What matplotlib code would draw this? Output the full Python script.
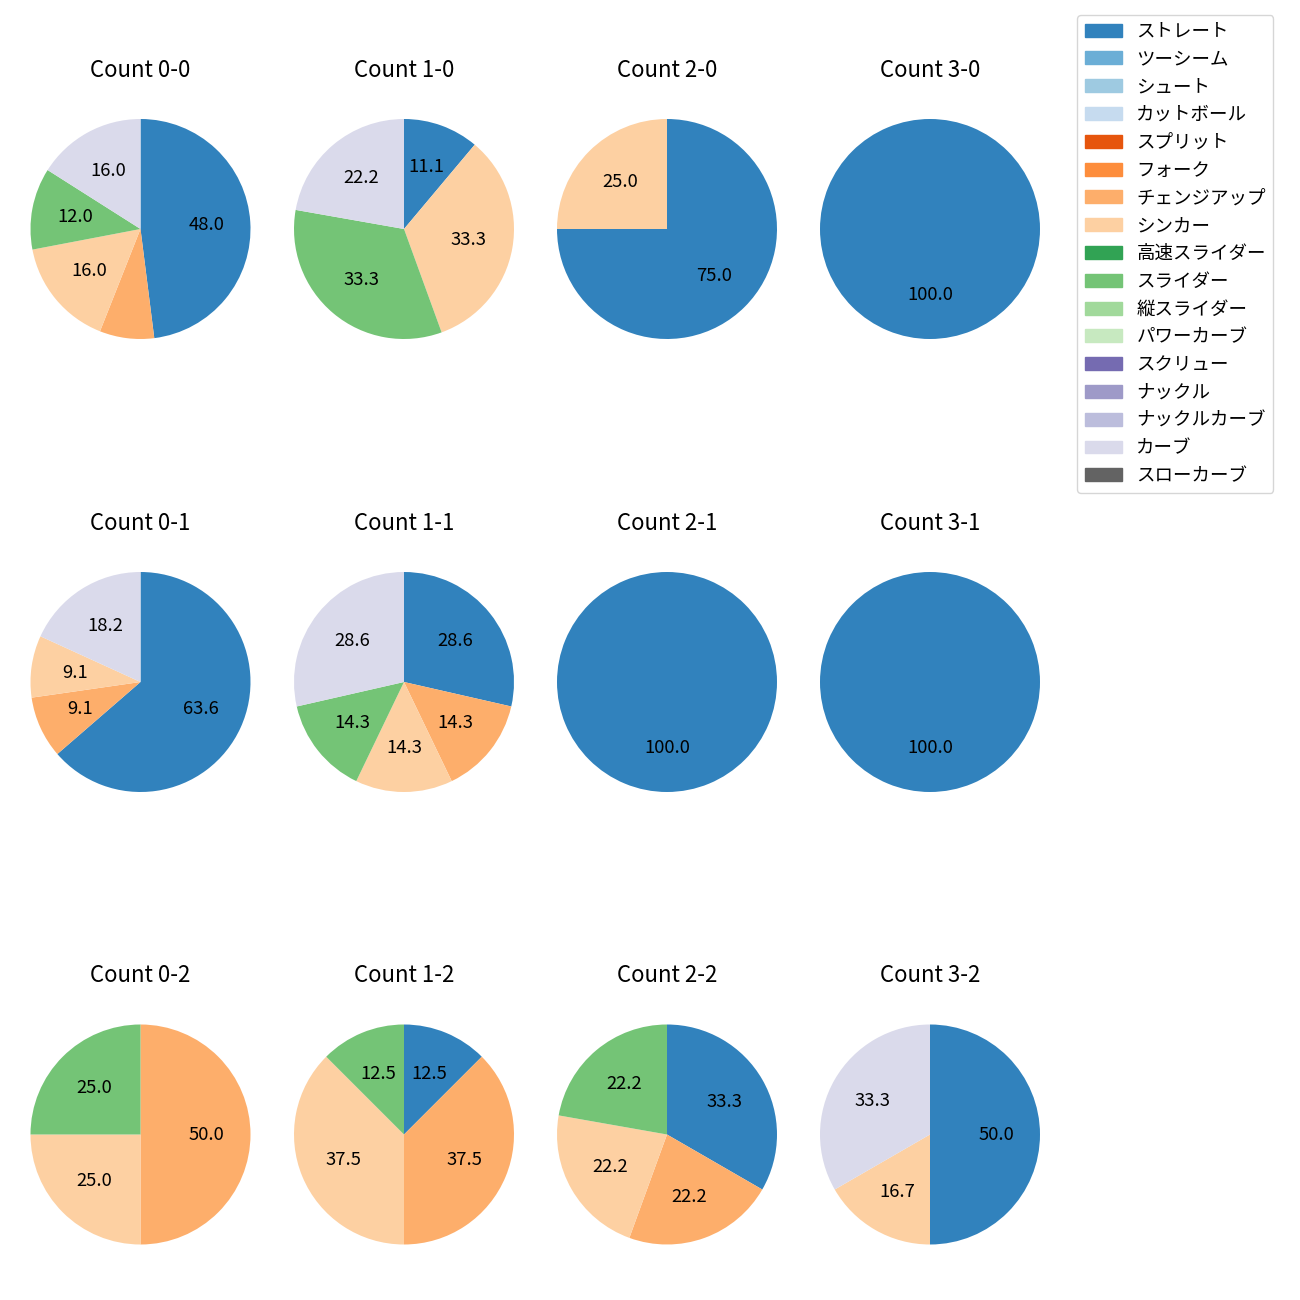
import matplotlib
matplotlib.use("Agg")
import matplotlib.pyplot as plt
import matplotlib.patches as mpatches

plt.rcParams['font.family'] = ['Noto Sans CJK JP', 'DejaVu Sans']

# ==============================
# DADOS
# ==============================

pitch_types = ["ストレート", "ツーシーム", "シュート", "カットボール", "スプリット",
               "フォーク", "チェンジアップ", "シンカー", "高速スライダー", "スライダー",
               "縦スライダー", "パワーカーブ", "スクリュー", "ナックル", "ナックルカーブ",
               "カーブ", "スローカーブ"]

count_labels = ["0-0", "1-0", "2-0", "3-0",
                "0-1", "1-1", "2-1", "3-1",
                "0-2", "1-2", "2-2", "3-2"]

# número de arremessos por contagem (mesma ordem de pitch_types)
#             St Tw Sh Cu Sp Fo Ch Si HS Sl VS PC Sc Kn KC Cv SC
pitches = [
    [12, 0, 0, 0, 0, 0, 2, 4, 0, 3, 0, 0, 0, 0, 0, 4, 0],   # 0-0
    [1, 0, 0, 0, 0, 0, 0, 3, 0, 3, 0, 0, 0, 0, 0, 2, 0],    # 1-0
    [3, 0, 0, 0, 0, 0, 0, 1, 0, 0, 0, 0, 0, 0, 0, 0, 0],    # 2-0
    [1, 0, 0, 0, 0, 0, 0, 0, 0, 0, 0, 0, 0, 0, 0, 0, 0],    # 3-0
    [7, 0, 0, 0, 0, 0, 1, 1, 0, 0, 0, 0, 0, 0, 0, 2, 0],    # 0-1
    [2, 0, 0, 0, 0, 0, 1, 1, 0, 1, 0, 0, 0, 0, 0, 2, 0],    # 1-1
    [1, 0, 0, 0, 0, 0, 0, 0, 0, 0, 0, 0, 0, 0, 0, 0, 0],    # 2-1
    [1, 0, 0, 0, 0, 0, 0, 0, 0, 0, 0, 0, 0, 0, 0, 0, 0],    # 3-1
    [0, 0, 0, 0, 0, 0, 2, 1, 0, 1, 0, 0, 0, 0, 0, 0, 0],    # 0-2
    [1, 0, 0, 0, 0, 0, 3, 3, 0, 1, 0, 0, 0, 0, 0, 0, 0],    # 1-2
    [3, 0, 0, 0, 0, 0, 2, 2, 0, 2, 0, 0, 0, 0, 0, 0, 0],    # 2-2
    [3, 0, 0, 0, 0, 0, 0, 1, 0, 0, 0, 0, 0, 0, 0, 2, 0],    # 3-2
]

cores = [plt.cm.tab20c(i) for i in range(len(pitch_types))]

# ==============================
# GRÁFICO
# ==============================

W, H = 1300, 1300
fig = plt.figure(figsize=(13, 13), dpi=100)

col_cx = [140.5, 404, 667, 930]
row_cy = [229, 682, 1134.5]
R = 110.0          # raio da pizza em px
aw, ah = 263, 282  # tamanho do eixo em px

for i, lbl in enumerate(count_labels):
    r, c = divmod(i, 4)
    cx, cy = col_cx[c], row_cy[r]
    ax = fig.add_axes([(cx - aw / 2) / W, 1 - (cy + ah / 2) / H, aw / W, ah / H])
    vals = [v for v in pitches[i] if v > 0]
    cols = [cores[k] for k, v in enumerate(pitches[i]) if v > 0]
    ax.pie(vals, colors=cols, startangle=90, counterclock=False,
           autopct=lambda p: f"{p:.1f}" if p > 8.5 else "",
           textprops={"fontsize": 13.3})
    ax.set_xlim(-aw / 2 / R, aw / 2 / R)
    ax.set_ylim(-ah / 2 / R, ah / 2 / R)
    ax.set_title(f"Count {lbl}", fontsize=16, pad=8)

handles = [mpatches.Patch(color=cores[k], label=p) for k, p in enumerate(pitch_types)]
fig.legend(handles=handles, loc="upper left",
           bbox_to_anchor=(1068 / W, 1 - 6 / H), fontsize=13.3,
           labelspacing=0.53)

fig.savefig("out.png", dpi=100)
